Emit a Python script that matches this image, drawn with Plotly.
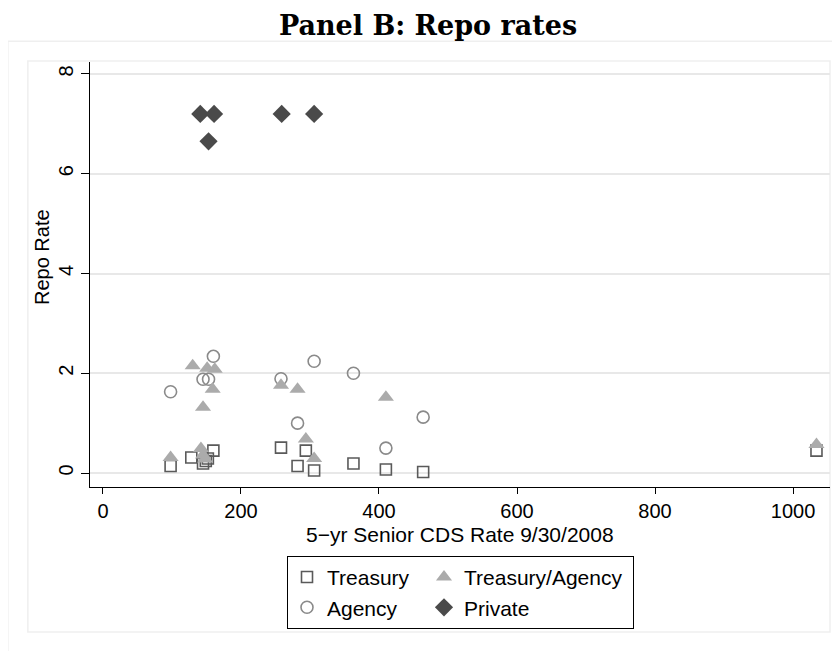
import plotly.graph_objects as go

# CDS rate (x) and repo rate (y) per collateral type
treasury_x = [98, 128, 145, 149, 152, 160, 258, 282, 294, 306, 363, 410, 464, 1034]
treasury_y = [0.14, 0.31, 0.19, 0.24, 0.29, 0.45, 0.51, 0.14, 0.45, 0.05, 0.19, 0.07, 0.02, 0.45]

tagency_x = [98, 130, 142, 145, 145, 148, 151, 159, 162, 258, 282, 294, 306, 410, 1034]
tagency_y = [0.31, 2.15, 0.49, 1.32, 0.36, 0.28, 2.10, 1.68, 2.08, 1.76, 1.68, 0.68, 0.29, 1.52, 0.57]

agency_x = [98, 145, 153, 160, 258, 282, 306, 363, 410, 464]
agency_y = [1.63, 1.88, 1.88, 2.34, 1.89, 1.00, 2.24, 2.00, 0.50, 1.12]

private_x = [141, 153, 161, 259, 306]
private_y = [7.20, 6.65, 7.20, 7.20, 7.20]

x_ticks = [0, 200, 400, 600, 800, 1000]
y_ticks = [0, 2, 4, 6, 8]

sans = "Liberation Sans"

fig = go.Figure()

# group "a" is the left legend column, "b" the right one
fig.add_trace(go.Scatter(
    x=treasury_x, y=treasury_y, mode="markers", name="Treasury",
    legendgroup="a", legendwidth=92,
    marker=dict(symbol="square-open", size=11, color="#5a5a5a", line=dict(width=1.6)),
))
fig.add_trace(go.Scatter(
    x=agency_x, y=agency_y, mode="markers", name="Agency",
    legendgroup="a", legendwidth=92,
    marker=dict(symbol="circle-open", size=12, color="#8a8a8a", line=dict(width=1.6)),
))
fig.add_trace(go.Scatter(
    x=tagency_x, y=tagency_y, mode="markers", name="Treasury/Agency",
    legendgroup="b", legendwidth=164,
    marker=dict(symbol="triangle-up", size=14, color="#ababab", line=dict(width=0)),
))
fig.add_trace(go.Scatter(
    x=private_x, y=private_y, mode="markers", name="Private",
    legendgroup="b", legendwidth=164,
    marker=dict(symbol="diamond", size=14, color="#4a4a4a", line=dict(width=0)),
))

# page body has an 8px margin, so the figure is 8px smaller each way
W, H = 832, 643

fig.update_layout(
    width=W, height=H,
    margin=dict(l=82, r=10, t=54, b=164),
    paper_bgcolor="white", plot_bgcolor="white",
    title=dict(
        text="<b>Panel B: Repo rates</b>",
        font=dict(family="DejaVu Serif", size=27, color="black"),
        x=(428 - 8) / W, xanchor="center", xref="container",
        y=1 - 18 / H, yanchor="middle", yref="container",
    ),
    xaxis=dict(
        range=[-18.8, 1053.6], tickvals=x_ticks, automargin=False,
        showgrid=False, zeroline=False,
        showline=True, linecolor="black", linewidth=1,
        ticks="outside", ticklen=6, tickcolor="black",
        tickfont=dict(family=sans, size=20, color="black"),
    ),
    yaxis=dict(
        range=[-0.28, 8.24], tickvals=y_ticks, tickangle=-90, automargin=False,
        showgrid=True, gridcolor="#e8e8e8", gridwidth=1.5, zeroline=False,
        showline=True, linecolor="black", linewidth=1,
        ticks="outside", ticklen=8, tickcolor="black",
        tickfont=dict(family=sans, size=20, color="black"),
    ),
    annotations=[
        dict(text="Repo Rate", textangle=-90, showarrow=False,
             xref="paper", yref="paper", x=(42 - 90) / 740, y=(487 - 257) / 425,
             xanchor="center", yanchor="middle",
             font=dict(family=sans, size=20, color="black")),
        dict(text="5\u2212yr Senior CDS Rate 9/30/2008", showarrow=False,
             xref="paper", yref="paper", x=0.5, y=(487 - 534) / 425,
             xanchor="center", yanchor="middle",
             font=dict(family=sans, size=21, color="black")),
    ],
    legend=dict(
        orientation="h", traceorder="grouped", tracegroupgap=0,
        x=(287 - 90) / 740, xanchor="left", y=-0.162, yanchor="top",
        bordercolor="black", borderwidth=1, bgcolor="white",
        font=dict(family=sans, size=21, color="black"),
    ),
    shapes=[
        # faint Stata-style graph and plot region frames
        dict(type="rect", xref="paper", yref="paper", layer="below",
             x0=-0.111, x1=1.03, y0=-0.45, y1=1.049,
             line=dict(color="#efefef", width=1.5)),
        dict(type="rect", xref="paper", yref="paper", layer="below",
             x0=-0.084, x1=1.0, y0=-0.341, y1=1.0024,
             line=dict(color="#efefef", width=1.5)),
    ],
)

fig.write_html("out.html")
